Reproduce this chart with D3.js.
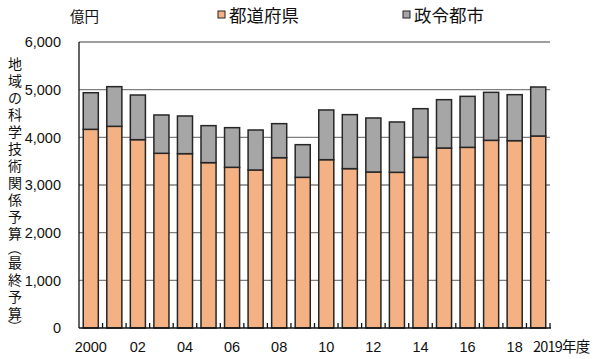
<!DOCTYPE html>
<html><head><meta charset="utf-8">
<script src="https://cdn.jsdelivr.net/npm/d3@7"></script>
<style>body{margin:0;background:#fff}svg{display:block}</style>
</head><body>
<svg id="c" width="600" height="359"></svg>
<script>
const years = ["2000","2001","2002","2003","2004","2005","2006","2007","2008","2009","2010","2011","2012","2013","2014","2015","2016","2017","2018","2019"];
const xLabels = ["2000","","02","","04","","06","","08","","10","","12","","14","","16","","18","2019年度"];
const prefecture = [4168,4231,3951,3665,3657,3469,3371,3315,3573,3161,3531,3343,3273,3266,3580,3776,3790,3937,3930,4028];
const cities = [768,832,937,804,791,776,832,839,714,685,1043,1133,1133,1056,1021,1014,1070,1007,965,1028];
const yTicks = [0,1000,2000,3000,4000,5000,6000];
const seriesNames = ["都道府県","政令都市"];
const colors = ["#F4B183","#A6A6A6"];
const yTitle = ["地","域","の","科","学","技","術","関","係","予","算","（","最","終","予","算","）"];

const svg = d3.select("#c");
const L = 79, R = 550, T = 42, B = 328;
const x = d3.scaleBand().domain(years).range([L, R]).paddingInner(0.36).paddingOuter(0.18);
const y = d3.scaleLinear().domain([0, 6000]).range([B, T]);
const numFont = "'Liberation Sans', Arial, sans-serif";
const jpFont = "'Noto Sans CJK JP', sans-serif";

// gridlines
svg.append("g").selectAll("line").data(yTicks.filter(d => d > 0)).join("line")
  .attr("x1", L).attr("x2", R).attr("y1", d => y(d)).attr("y2", d => y(d))
  .attr("stroke", "#7f7f7f").attr("stroke-width", 1.3);

// y tick labels
svg.append("g").selectAll("text").data(yTicks).join("text")
  .attr("x", 61).attr("y", d => y(d)).attr("dy", "0.36em")
  .attr("text-anchor", "end").attr("font-family", numFont).attr("font-size", 14.5)
  .attr("fill", "#111").text(d => d3.format(",")(d));

// bars
const stack = years.map((yr, i) => ({yr, a: prefecture[i], b: cities[i]}));
const g = svg.append("g");
g.selectAll("rect.a").data(stack).join("rect").attr("class", "a")
  .attr("x", d => x(d.yr)).attr("width", x.bandwidth())
  .attr("y", d => y(d.a)).attr("height", d => y(0) - y(d.a))
  .attr("fill", colors[0]).attr("stroke", "#262626").attr("stroke-width", 1.5);
g.selectAll("rect.b").data(stack).join("rect").attr("class", "b")
  .attr("x", d => x(d.yr)).attr("width", x.bandwidth())
  .attr("y", d => y(d.a + d.b)).attr("height", d => y(d.a) - y(d.a + d.b))
  .attr("fill", colors[1]).attr("stroke", "#262626").attr("stroke-width", 1.5);

// axes
svg.append("line").attr("x1", L).attr("x2", L).attr("y1", T).attr("y2", B)
  .attr("stroke", "#111").attr("stroke-width", 1.3);
svg.append("line").attr("x1", L).attr("x2", R + 1).attr("y1", B).attr("y2", B)
  .attr("stroke", "#111").attr("stroke-width", 1.3);
// x ticks at category boundaries
const step = x.step();
svg.append("g").selectAll("line").data(years).join("line")
  .attr("x1", (d, i) => L + step * (i + 1)).attr("x2", (d, i) => L + step * (i + 1))
  .attr("y1", B).attr("y2", B - 5).attr("stroke", "#111").attr("stroke-width", 1.3);

// x labels
svg.append("g").selectAll("text").data(years.map((d, i) => ({d, l: xLabels[i]})).filter(o => o.l !== "")).join("text")
  .attr("x", o => o.d === "2019" ? 533 : x(o.d) + x.bandwidth() / 2)
  .attr("y", 352)
  .attr("text-anchor", o => o.d === "2019" ? "start" : "middle")
  .attr("font-family", o => o.d === "2019" ? jpFont : numFont)
  .attr("font-size", 14.5).attr("fill", "#111")
  .attr("letter-spacing", o => o.d === "2019" ? -0.8 : 0)
  .text(o => o.l);

// unit
svg.append("text").attr("x", 70).attr("y", 22).attr("font-family", jpFont)
  .attr("font-size", 14.5).attr("fill", "#111").text("億円");

// legend
const legX = [218, 403];
seriesNames.forEach((n, i) => {
  svg.append("rect").attr("x", legX[i]).attr("y", 11).attr("width", 7).attr("height", 7)
    .attr("fill", colors[i]).attr("stroke", "#222").attr("stroke-width", 1);
  svg.append("text").attr("x", legX[i] + 11).attr("y", 21.5).attr("font-family", jpFont)
    .attr("font-size", 17.5).attr("fill", "#111").text(n);
});

// vertical y title, one character per row
let cy = 64;
const yt = svg.append("g");
yTitle.forEach((ch, i) => {
  const paren = ch === "（" || ch === "）";
  if (paren) cy += (ch === "（" ? 0 : -2);
  const t = yt.append("text").attr("x", 15).attr("y", cy).attr("dy", "0.36em")
    .attr("text-anchor", "middle").attr("font-family", jpFont).attr("font-size", 14)
    .attr("fill", "#111").text(ch);
  if (paren) t.attr("transform", `rotate(90,15,${cy})`);
  const next = yTitle[i + 1];
  const nextParen = next === "（" || next === "）";
  cy += (paren || nextParen) ? 14.5 : 17;
});
</script>
</body></html>
